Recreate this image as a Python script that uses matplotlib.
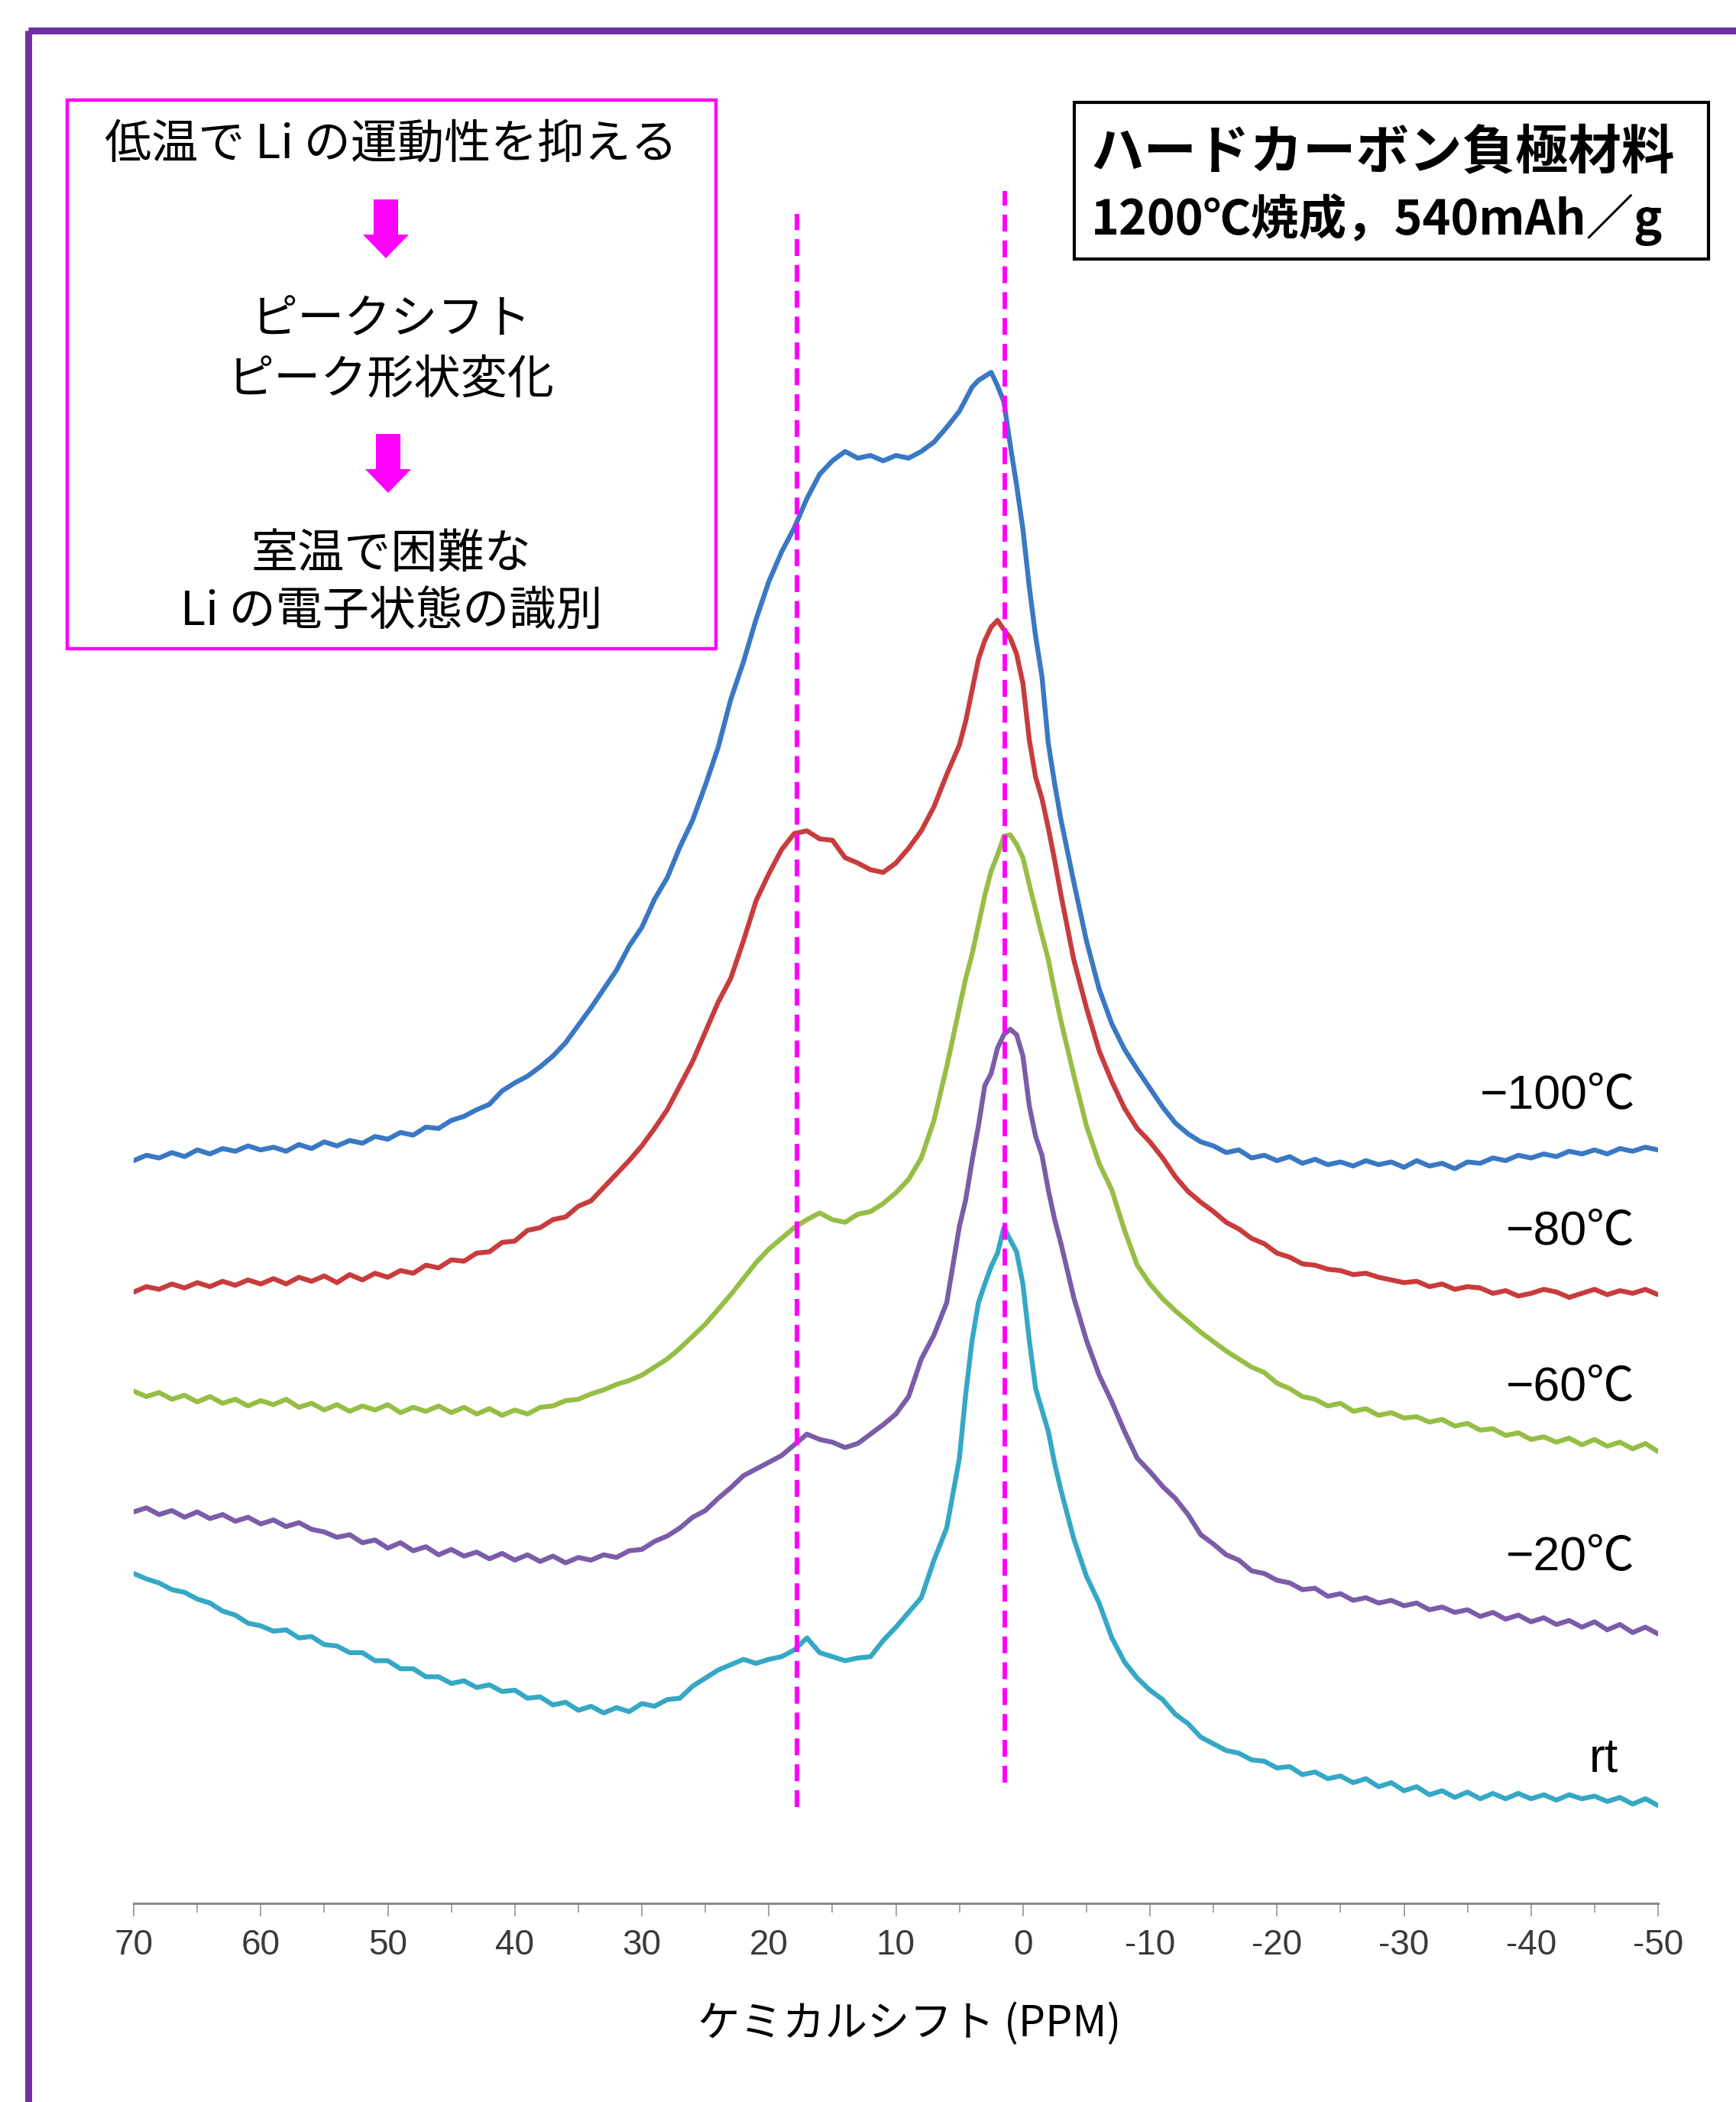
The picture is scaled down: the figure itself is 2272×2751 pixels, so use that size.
import matplotlib
matplotlib.use("Agg")
import matplotlib.pyplot as plt
from matplotlib.patches import Rectangle, Polygon
from matplotlib.ticker import MultipleLocator

W, H = 2272, 2751
DPI = 100

# chemical shift grid (ppm)
PPM = [70, 69, 68, 67, 66, 65, 64, 63, 62, 61,
       60, 59, 58, 57, 56, 55, 54, 53, 52, 51,
       50, 49, 48, 47, 46, 45, 44, 43, 42, 41,
       40, 39, 38, 37, 36, 35, 34, 33, 32, 31,
       30, 29, 28, 27, 26, 25, 24, 23, 22, 21,
       20, 19, 18, 17, 16, 15, 14, 13, 12, 11,
       10, 9, 8, 7, 6, 5,
       4.5, 4, 3.5, 3, 2.5, 2, 1.5, 1, 0.5, 0, -0.5, -1, -1.5, -2, -2.5, -3,
       -4, -5, -6, -7, -8, -9, -10, -11, -12, -13,
       -14, -15, -16, -17, -18, -19, -20, -21, -22, -23,
       -24, -25, -26, -27, -28, -29, -30, -31, -32, -33,
       -34, -35, -36, -37, -38, -39, -40, -41, -42, -43,
       -44, -45, -46, -47, -48, -49, -50]

# stacked intensities (arb. units, offsets included)
T_M100 = [554, 558, 556, 560, 557, 562, 559, 563, 561, 565,
          562, 564, 561, 566, 563, 568, 565, 569, 567, 572,
          570, 575, 573, 579, 578, 584, 587, 592, 596, 606,
          612, 617, 624, 632, 642, 655, 668, 682, 696, 714,
          728, 749, 765, 788, 808, 834, 862, 898, 926, 958,
          986, 1008, 1026, 1048, 1066, 1076, 1083, 1078, 1080, 1076,
          1080, 1078, 1083, 1090, 1101, 1113,
          1122, 1131, 1136, 1139, 1142, 1132, 1120, 1088, 1058, 1025, 982, 945, 915, 865, 835, 808,
          762, 718, 682, 656, 637, 622, 608, 594, 582, 574,
          568, 565, 560, 562, 556, 558, 554, 557, 552, 555,
          551, 553, 550, 554, 551, 553, 549, 554, 550, 552,
          548, 553, 552, 556, 554, 558, 556, 559, 557, 561,
          559, 562, 559, 563, 561, 564, 562]

T_M80 = [456, 460, 458, 462, 459, 463, 460, 464, 461, 465,
         462, 466, 462, 467, 464, 468, 463, 469, 465, 470,
         467, 472, 470, 476, 474, 480, 479, 485, 486, 493,
         494, 502, 504, 510, 512, 520, 524, 534, 544, 554,
         565, 578, 592, 610, 628, 650, 672, 690, 718, 748,
         768, 786, 798, 800, 794, 793, 780, 776, 771, 769,
         776, 787, 800, 818, 842, 864,
         882, 905, 928, 942, 952, 957, 950, 944, 932, 910, 868, 840, 824, 802, 778, 752,
         704, 668, 636, 613, 593, 578, 568, 556, 542, 531,
         523, 516, 508, 503, 496, 492, 485, 482, 477, 476,
         473, 472, 469, 470, 467, 465, 463, 464, 460, 462,
         458, 460, 459, 455, 457, 453, 455, 458, 456, 452,
         455, 458, 454, 457, 455, 458, 454]

T_M60 = [382, 378, 381, 376, 379, 374, 378, 373, 376, 371,
         375, 372, 376, 370, 373, 368, 372, 367, 371, 368,
         372, 366, 370, 367, 371, 366, 370, 365, 369, 364,
         368, 365, 370, 371, 375, 376, 380, 383, 387, 390,
         394, 400, 406, 414, 423, 432, 443, 454, 466, 478,
         488, 496, 504, 510, 515, 510, 508, 514, 516, 522,
         530, 540, 556, 584, 624, 668,
         690, 708, 730, 752, 770, 782, 796, 797, 790, 780, 760, 741, 722, 704, 680, 658,
         618, 580, 552, 532, 502, 476, 462, 451, 442, 434,
         426, 419, 412, 406, 400, 396, 388, 384, 378, 376,
         371, 373, 367, 369, 364, 366, 362, 363, 359, 361,
         356, 358, 353, 354, 349, 351, 346, 348, 344, 347,
         342, 346, 341, 344, 339, 343, 337]

T_M20 = [292, 295, 290, 293, 288, 292, 287, 290, 285, 288,
         283, 286, 281, 284, 279, 277, 273, 275, 269, 271,
         265, 269, 263, 266, 260, 264, 259, 262, 257, 261,
         256, 260, 255, 259, 254, 258, 256, 260, 258, 263,
         264, 270, 274, 280, 288, 293, 302, 310, 319, 324,
         329, 334, 342, 350, 346, 344, 340, 343, 350, 357,
         365, 378, 406, 424, 448, 505,
         525, 554, 580, 610, 619, 638, 648, 652, 648, 632, 595, 572, 558, 532, 510, 492,
         452, 420, 394, 374, 352, 332, 322, 311, 302, 290,
         275, 268, 260, 256, 248, 246, 241, 239, 234, 235,
         229, 231, 226, 228, 224, 226, 222, 224, 219, 221,
         217, 219, 214, 217, 212, 215, 210, 213, 208, 211,
         206, 210, 204, 208, 202, 206, 201]

T_RT = [246, 242, 239, 234, 232, 227, 224, 218, 215, 209,
        207, 203, 204, 198, 199, 193, 192, 187, 187, 181,
        181, 175, 175, 169, 169, 164, 166, 161, 163, 158,
        159, 153, 154, 148, 150, 144, 147, 142, 146, 143,
        149, 147, 152, 153, 162, 168, 174, 178, 182, 179,
        182, 184, 189, 198, 187, 184, 181, 183, 184, 196,
        206, 217, 228, 256, 280, 332,
        380, 420, 448, 462, 475, 485, 504, 495, 486, 462, 420, 384, 368, 352, 328, 308,
        272, 244, 224, 198, 180, 168, 159, 152, 141, 134,
        124, 119, 114, 112, 107, 106, 101, 102, 96, 98,
        93, 95, 90, 93, 87, 90, 84, 87, 81, 84,
        79, 83, 78, 82, 78, 82, 78, 81, 77, 81,
        78, 80, 76, 79, 74, 78, 73]

SERIES = [T_M100, T_M80, T_M60, T_M20, T_RT]
LABELS = ["\u2212100\u2103", "\u221280\u2103", "\u221260\u2103", "\u221220\u2103", "rt"]
COLORS = ["#3a78c3", "#c83c3c", "#96be46", "#7b5ca8", "#35a8c5"]

# reference peak positions (ppm) and the vertical span of the dashed guides
GUIDE_PPM = [17.8, 1.4]
GUIDE_LOW = [72, 90]
GUIDE_HIGH = [1260, 1277]

TICKS = [70, 60, 50, 40, 30, 20, 10, 0, -10, -20, -30, -40, -50]

CJK = "Noto Sans CJK JP"

fig = plt.figure(figsize=(W / DPI, H / DPI), dpi=DPI)
fig.patch.set_facecolor("white")

# spectrum axes
ax = fig.add_axes([175 / W, 1 - 2491 / H, 1995 / W, (2491 - 175) / H])
for s, c in zip(SERIES, COLORS):
    ax.plot(PPM, s, color=c, lw=4.6, solid_joinstyle="round",
            solid_capstyle="round", zorder=3)

for x, lo, hi in zip(GUIDE_PPM, GUIDE_LOW, GUIDE_HIGH):
    ax.plot([x, x], [lo, hi], color="#ff00ff", lw=4.2,
            linestyle=(0, (3.8, 2.0)), zorder=4)

ax.set_xlim(70, -50)
ax.set_ylim(0, 1320)
for side in ["left", "right", "top"]:
    ax.spines[side].set_visible(False)
ax.spines["bottom"].set_color("#8a8a8a")
ax.spines["bottom"].set_linewidth(2.2)
ax.set_yticks([])
ax.set_xticks(TICKS)
ax.set_xticklabels([str(t) for t in TICKS])
ax.xaxis.set_minor_locator(MultipleLocator(5))
ax.tick_params(axis="x", which="major", length=12, width=1.1, color="#8a8a8a",
               pad=12, labelsize=33, labelcolor="#3a3a3a")
ax.tick_params(axis="x", which="minor", length=8.5, width=1.1, color="#8a8a8a")
for lab in ax.get_xticklabels():
    lab.set_family(["Liberation Sans Narrow", "Liberation Sans", "DejaVu Sans"])
ax.patch.set_alpha(0)

# overlay in pixel coordinates for frames and notes
ov = fig.add_axes([0, 0, 1, 1], zorder=5)
ov.set_xlim(0, W)
ov.set_ylim(H, 0)
ov.axis("off")
ov.patch.set_alpha(0)

ov.add_patch(Rectangle((37, 40), W, H, fill=False, ec="#7030a0", lw=6.5))
ov.add_patch(Rectangle((88, 131), 849, 718, fill=False, ec="#ff00ff", lw=3.2))
ov.add_patch(Rectangle((1406, 134), 830, 205, fill=False, ec="black", lw=3.0))

note_kw = dict(ha="center", va="center", fontsize=44, family=CJK, color="black")
ov.text(512, 189, "低温で Li の運動性を抑える", **note_kw)
ov.text(512, 419, "ピークシフト", **note_kw)
ov.text(512, 497, "ピーク形状変化", **note_kw)
ov.text(512, 726, "室温で困難な", **note_kw)
ov.text(512, 801, "Li の電子状態の識別", **note_kw)

for cx, top in [(505, 261), (508, 568)]:
    arrow = Polygon([(cx - 16, top), (cx + 16, top), (cx + 16, top + 46),
                     (cx + 30, top + 46), (cx, top + 77), (cx - 30, top + 46),
                     (cx - 16, top + 46)], closed=True, fc="#ff00ff", ec="none")
    ov.add_patch(arrow)

ov.text(1428, 200, "ハードカーボン負極材料", ha="left", va="center", fontsize=50,
        family=CJK, fontweight="bold", color="black")
ov.text(1428, 288, "1200℃焼成，540mAh／g", ha="left", va="center", fontsize=45,
        family=CJK, fontweight="bold", color="black")

label_y = [1434, 1613, 1816, 2038, 2302]
label_x = [2140, 2140, 2140, 2140, 2118]
for lab, x, y in zip(LABELS, label_x, label_y):
    ov.text(x, y, lab, ha="right", va="center", fontsize=45,
            family=["Liberation Sans", CJK], color="black")

ov.text(1190, 2649, "ケミカルシフト (PPM)", ha="center", va="center",
        fontsize=40, family=CJK, color="black")

fig.savefig("out.png", dpi=DPI, facecolor="white")
